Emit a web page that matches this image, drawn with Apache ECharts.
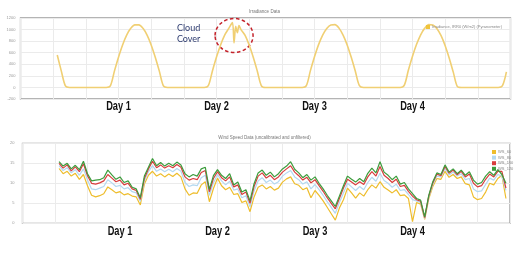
<!DOCTYPE html>
<html><head><meta charset="utf-8">
<script src="https://cdn.jsdelivr.net/npm/echarts@6/dist/echarts.min.js"></script>
<style>html,body{margin:0;padding:0;background:#fff}#c{width:529px;height:253px}</style>
</head><body><div id="c"></div>
<script>
// ---- data ----
const dayLabels = ['Day 1','Day 2','Day 3','Day 4'];
const dayHours = [24, 48, 72, 96];
const irrName = 'Irradiance, IRR0 (W/m2) (Pyranometer)';
const irrHours = [9,10,11,12,
  21,22,23,24,25,26,27,28,29,30,31,32,33,34,35,36,
  45,46,47,48,49,50,51,51.9,52.3,52.7,53.1,53.5,54,55,56,57,58,59,60,
  69,70,71,72,73,74,75,76,77,78,79,80,81,82,83,84,
  93,94,95,96,97,98,99,100,101,102,103,104,105,106,107,108,
  117,118,119];
const irrValues = [560,282,26,0,
  0,26,282,522,734,903,1021,1082,1082,1021,903,734,522,282,26,0,
  0,30,285,525,735,905,1020,1120,770,1055,945,1068,1000,900,732,520,280,28,0,
  0,30,290,530,740,905,1020,1080,1085,1025,905,735,520,280,30,0,
  0,40,300,540,745,910,1025,1085,1080,1015,895,720,505,260,15,0,
  0,26,270];

const windNames = ['WS_60','WS_80','WS_100','WS_120'];
const windHours = [9,10,11,12,13,14,15,16,17,18,19,20,21,22,23,24,25,26,27,28,29,30,31,32,33,34,35,36,37,38,39,40,41,42,43,44,45,46,47,48,49,50,51,52,53,54,55,56,57,58,59,60,61,62,63,64,65,66,67,68,69,70,71,72,73,74,75,76,77,78,79,80,81,82,83,84,85,86,87,88,89,90,91,92,93,94,95,96,97,98,99,100,101,102,103,104,105,106,107,108,109,110,111,112,113,114,115,116,117,118,119];
const ws120 = [15.4,14.3,15.0,13.6,14.5,13.4,15.5,12.4,10.6,10.8,
  10.9,11.4,13.3,12.1,11.0,11.6,10.2,10.6,9.0,8.6,
  6.4,11.8,14.0,16.2,14.4,15.2,14.3,15.0,14.4,15.3,
  14.6,12.4,11.6,12.2,11.8,13.6,14.0,8.5,11.9,13.4,
  12.0,11.2,12.4,9.6,10.3,7.8,8.4,5.6,9.9,12.6,
  13.3,12.0,12.8,11.6,12.4,13.6,14.3,15.4,13.5,12.6,
  11.4,12.2,10.8,11.6,10.0,8.6,7.0,5.6,4.2,6.8,
  9.4,11.8,11.0,10.3,11.2,10.4,12.5,13.8,12.6,15.4,
  12.8,12.0,10.9,11.8,9.8,10.2,8.6,7.4,6.2,5.8,
  1.6,7.0,10.4,12.6,12.2,14.6,12.8,13.6,12.4,13.3,
  12.0,12.9,10.8,9.8,10.2,11.8,12.9,12.0,13.4,12.2,10.0];
const ws100 = [15.0,13.8,14.6,13.1,14.1,12.9,14.9,11.9,10.0,9.8,
  10.1,10.6,12.2,11.3,10.4,10.8,9.6,10.0,8.6,8.2,
  6.0,11.2,13.6,15.5,13.9,14.6,13.8,14.4,13.9,14.7,
  14.0,11.6,10.8,11.2,10.9,12.7,13.2,7.9,11.2,12.9,
  11.4,10.6,11.6,9.1,9.6,7.2,7.8,5.0,9.2,11.8,
  12.6,11.3,12.0,10.9,11.6,12.8,13.6,14.4,12.8,11.9,
  10.8,11.5,10.1,10.9,9.4,8.0,6.4,5.0,3.6,6.2,
  8.8,11.0,10.3,9.6,10.4,9.7,11.6,12.9,11.8,14.2,
  12.0,11.2,10.2,11.0,9.2,9.5,8.0,6.8,5.9,5.5,
  1.4,6.8,10.1,12.3,11.9,14.2,12.5,13.3,12.1,13.0,
  11.6,12.3,10.0,9.1,9.4,11.0,12.3,11.6,13.0,13.0,8.8];
const ws80 = [14.4,13.2,13.9,12.6,13.4,12.0,13.6,10.8,8.6,8.4,
  8.8,9.2,10.9,10.1,9.2,9.5,8.6,8.9,7.9,7.6,
  5.5,10.6,12.9,14.4,13.0,13.6,12.9,13.5,12.9,13.7,
  13.0,10.2,9.2,9.6,9.4,11.4,12.0,7.0,10.1,12.2,
  10.6,9.6,10.5,8.3,8.6,6.4,6.9,4.1,8.1,10.6,
  11.4,10.2,10.8,9.8,10.4,11.8,12.6,13.2,11.6,10.9,
  9.8,10.4,8.6,9.7,8.4,7.0,5.4,4.0,2.5,5.2,
  7.6,10.0,9.1,8.2,9.2,8.4,10.2,11.5,10.5,12.5,
  10.7,10.0,9.0,9.8,8.2,8.4,7.2,5.9,5.6,5.2,
  1.2,6.5,9.7,11.8,11.6,13.7,12.1,12.8,11.8,12.4,
  10.9,11.2,8.6,7.9,8.1,9.7,11.3,10.8,12.2,11.8,8.2];
const ws60 = [13.7,12.4,13.0,11.8,12.5,11.0,12.2,9.4,7.0,6.6,
  6.9,7.4,9.1,8.4,7.6,7.9,7.1,7.4,6.8,6.6,
  4.6,9.8,12.0,13.0,11.8,12.4,11.6,12.3,11.7,12.5,
  11.6,8.6,7.0,7.6,7.5,9.6,10.4,5.4,8.7,11.3,
  9.4,8.4,9.0,7.2,7.4,5.2,5.6,2.9,6.6,9.0,
  9.6,8.6,9.2,8.3,8.8,10.3,11.1,11.6,9.9,9.5,
  8.4,8.9,6.4,8.2,7.0,5.6,4.0,2.4,0.8,3.8,
  5.9,8.8,7.6,6.3,7.6,6.8,8.4,9.6,8.8,10.4,
  9.0,8.3,7.6,8.4,6.9,7.1,6.2,0.4,5.2,4.8,
  1.0,6.1,9.2,11.2,11.0,13.0,11.5,12.2,11.2,11.6,
  9.9,9.6,6.6,5.9,6.2,7.8,10.0,9.6,11.2,12.0,6.2];

// ---- helpers ----
const pair = (xs, ys) => xs.map((x, i) => [x, ys[i]]);
const windColors = ['#eebd2c', '#b3d8f0', '#d83c3c', '#3c9c3c'];
const windData = [ws60, ws80, ws100, ws120];

const chart = echarts.init(document.getElementById('c'), null, {renderer: 'canvas'});
const axisLbl = {fontSize: 4, color: '#9a9a9a', fontFamily: 'Liberation Sans', formatter: v => String(v)};
const xAxisBase = {
  type: 'value', min: 0, max: 120, interval: 8,
  axisLine: {show: false}, axisTick: {show: false}, axisLabel: {show: false},
  splitLine: {show: true, lineStyle: {color: '#ebebeb', width: 1}}
};

chart.setOption({
  animation: false,
  title: [
    {text: 'Irradiance Data', left: 'center', top: 4, textStyle: {fontSize: 4.5, color: '#777', fontWeight: 'normal', fontFamily: 'Liberation Sans'}},
    {text: 'Wind Speed Data (uncalibrated and unfiltered)', left: 'center', top: 130, textStyle: {fontSize: 4.5, color: '#777', fontWeight: 'normal', fontFamily: 'Liberation Sans'}}
  ],
  legend: [
    {data: [irrName], right: 22, top: 20, itemWidth: 4, itemHeight: 4, icon: 'rect',
     textStyle: {fontSize: 4, color: '#888', fontFamily: 'Liberation Sans', padding: [0, 0, 0, -3]}},
    {data: windNames, orient: 'vertical', left: 487, top: 145, itemWidth: 4, itemHeight: 4, itemGap: 1.6, icon: 'rect',
     textStyle: {fontSize: 4, color: '#888', fontFamily: 'Liberation Sans', padding: [0, 0, 0, -3]}}
  ],
  grid: [
    {left: 20.5, top: 18, width: 490, height: 81, show: true, borderColor: '#9c9c9c', borderWidth: 1.3, backgroundColor: 'transparent'},
    {left: 22.5, top: 143.3, width: 487.5, height: 80, show: true, borderColor: '#9c9c9c', borderWidth: 1.3, backgroundColor: 'transparent'}
  ],
  xAxis: [
    Object.assign({gridIndex: 0}, xAxisBase),
    Object.assign({gridIndex: 1}, xAxisBase)
  ],
  yAxis: [
    {gridIndex: 0, type: 'value', min: -200, max: 1200, interval: 200,
     axisLine: {show: false}, axisTick: {show: false}, axisLabel: Object.assign({margin: 5}, axisLbl),
     splitLine: {lineStyle: {color: '#ebebeb'}}},
    {gridIndex: 1, type: 'value', min: 0, max: 20, interval: 5,
     axisLine: {show: false}, axisTick: {show: false}, axisLabel: Object.assign({margin: 8}, axisLbl),
     splitLine: {lineStyle: {color: '#ebebeb'}}}
  ],
  series: [
    {name: irrName, type: 'line', xAxisIndex: 0, yAxisIndex: 0, data: pair(irrHours, irrValues),
     showSymbol: false, smooth: 0.3, color: '#f0c43a', lineStyle: {color: '#f0cf73', width: 1.6}}
  ].concat(windNames.map((n, i) => ({
    name: n, type: 'line', xAxisIndex: 1, yAxisIndex: 1, data: pair(windHours, windData[i]),
    showSymbol: false, color: windColors[i], lineStyle: {width: 1.2, color: windColors[i]}
  })))
});

// ---- annotations anchored to data coordinates ----
const g = [];
dayHours.forEach((h, i) => {
  [[0, 107], [1, 232]].forEach(([gi, y]) => {
    const p = chart.convertToPixel({xAxisIndex: gi, yAxisIndex: gi}, [h, 0]);
    g.push({type: 'text', x: p[0], y: y, scaleX: 0.74,
      style: {text: dayLabels[i], font: 'bold 12.5px "Liberation Sans Narrow", "Liberation Sans", sans-serif',
        fill: '#111', textAlign: 'center', textVerticalAlign: 'middle'}});
  });
});
const ec = chart.convertToPixel({xAxisIndex: 0, yAxisIndex: 0}, [52.3, 897]);
g.push({type: 'ellipse', shape: {cx: ec[0], cy: ec[1], rx: 19, ry: 17},
  style: {fill: 'none', stroke: '#c4232b', lineWidth: 1.5, lineDash: [3.5, 2.5]}});
const tc = chart.convertToPixel({xAxisIndex: 0, yAxisIndex: 0}, [38.3, 925]);
g.push({type: 'text', x: tc[0], y: tc[1],
  style: {text: 'Cloud\nCover', font: '9px Lato, "Open Sans", sans-serif', fill: '#2e3c70', lineHeight: 11,
    textAlign: 'left', textVerticalAlign: 'middle'}});
chart.setOption({graphic: g});
</script></body></html>
